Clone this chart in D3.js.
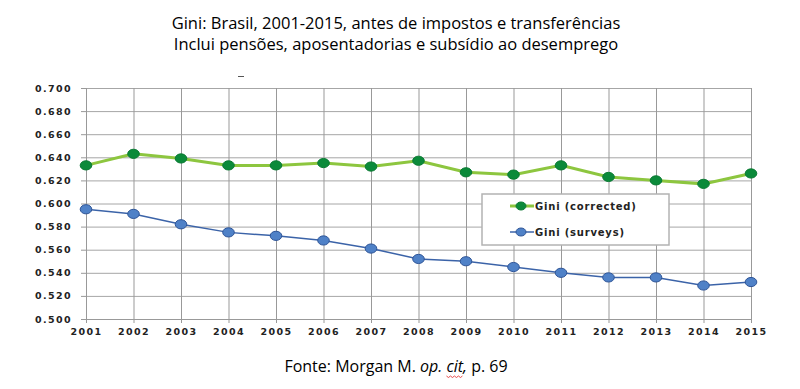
<!DOCTYPE html>
<html>
<head>
<meta charset="utf-8">
<script src="https://cdn.jsdelivr.net/npm/d3@7"></script>
<style>
  body { margin: 0; background: #fff; }
  svg { display: block; }
</style>
</head>
<body>
<svg id="chart"></svg>
<script>
// Gini values
const years = [2001, 2002, 2003, 2004, 2005, 2006, 2007, 2008, 2009, 2010, 2011, 2012, 2013, 2014, 2015];
const giniCorrected = [0.633, 0.643, 0.639, 0.633, 0.633, 0.635, 0.632, 0.637, 0.627, 0.625, 0.633, 0.623, 0.620, 0.617, 0.626];
const giniSurveys = [0.595, 0.591, 0.582, 0.575, 0.572, 0.568, 0.561, 0.552, 0.550, 0.545, 0.540, 0.536, 0.536, 0.529, 0.532];
const yTicks = [0.5, 0.52, 0.54, 0.56, 0.58, 0.6, 0.62, 0.64, 0.66, 0.68, 0.7];
const titleLines = ["Gini: Brasil, 2001-2015, antes de impostos e transferências",
                    "Inclui pensões, aposentadorias e subsídio ao desemprego"];

const width = 800;
const height = 389;
const marginTop = 88;
const marginRight = 49;
const marginBottom = 70;
const marginLeft = 86;

const svg = d3.select("#chart")
    .attr("width", width)
    .attr("height", height)
    .attr("viewBox", [0, 0, width, height]);

const x = d3.scaleLinear([2001, 2015], [marginLeft, width - marginRight]);
const y = d3.scaleLinear([0.5, 0.7], [height - marginBottom, marginTop]);

const axisFont = "'DejaVu Sans', sans-serif";

// Title
svg.append("g")
    .selectAll("text")
    .data(titleLines)
    .join("text")
    .attr("x", 396)
    .attr("y", (d, i) => 29 + i * 21)
    .attr("text-anchor", "middle")
    .attr("font-family", "'Open Sans', sans-serif")
    .attr("font-size", 16.5)
    .attr("fill", "#000")
    .text(d => d);

// stray little dash under the title in the original
svg.append("line")
    .attr("x1", 238).attr("x2", 244)
    .attr("y1", 76.5).attr("y2", 76.5)
    .attr("stroke", "#555")
    .attr("stroke-width", 1);

// Grid: horizontal lines + y-axis
svg.append("g")
    .attr("transform", `translate(${marginLeft},0)`)
    .call(d3.axisLeft(y).tickValues(yTicks).tickFormat(d3.format(".3f")).tickSize(5).tickPadding(9))
    .call(g => g.select(".domain").attr("stroke", "#999"))
    .call(g => g.selectAll(".tick line").attr("stroke", "#999"))
    .call(g => g.selectAll(".tick line").clone()
        .attr("x1", 0)
        .attr("x2", width - marginLeft - marginRight)
        .attr("stroke", "#a6a6a6"))
    .call(g => g.selectAll(".tick text")
        .attr("font-family", axisFont)
        .attr("font-weight", "bold")
        .attr("font-size", 9.5)
        .attr("letter-spacing", 1.4)
        .attr("fill", "#222"));

// Grid: vertical lines + x-axis
svg.append("g")
    .attr("transform", `translate(0,${height - marginBottom})`)
    .call(d3.axisBottom(x).tickValues(years).tickFormat(d3.format("d")).tickSize(4).tickPadding(5))
    .call(g => g.select(".domain").attr("stroke", "#999"))
    .call(g => g.selectAll(".tick line").attr("stroke", "#999"))
    .call(g => g.selectAll(".tick line").clone()
        .attr("y1", 0)
        .attr("y2", -(height - marginBottom - marginTop))
        .attr("stroke", "#999"))
    .call(g => g.selectAll(".tick text")
        .attr("font-family", axisFont)
        .attr("font-weight", "bold")
        .attr("font-size", 9.5)
        .attr("letter-spacing", 1.4)
        .attr("fill", "#222"));

const series = [
    { name: "Gini (corrected)", values: giniCorrected, line: "#8dc63f", dot: "#0b8a3a", dotStroke: "#0a7a33", width: 3 },
    { name: "Gini (surveys)", values: giniSurveys, line: "#3b63a8", dot: "#4f81c7", dotStroke: "#2f5597", width: 1.5 }
];

const line = d3.line()
    .x((d, i) => x(years[i]))
    .y(d => y(d));

for (const s of series) {
    svg.append("path")
        .attr("fill", "none")
        .attr("stroke", s.line)
        .attr("stroke-width", s.width)
        .attr("d", line(s.values));

    svg.append("g")
        .selectAll("ellipse")
        .data(s.values)
        .join("ellipse")
        .attr("cx", (d, i) => x(years[i]))
        .attr("cy", d => y(d))
        .attr("rx", 5.8)
        .attr("ry", 4.6)
        .attr("fill", s.dot)
        .attr("stroke", s.dotStroke)
        .attr("stroke-width", 1);
}

// Legend
const legend = svg.append("g").attr("transform", "translate(482,194)");
legend.append("rect")
    .attr("width", 187)
    .attr("height", 51)
    .attr("fill", "#fff")
    .attr("stroke", "#b3b3b3")
    .attr("stroke-width", 1.5);

series.forEach((s, i) => {
    const g = legend.append("g").attr("transform", `translate(0,${12 + i * 26})`);
    g.append("line")
        .attr("x1", 28).attr("x2", 52)
        .attr("stroke", s.line)
        .attr("stroke-width", s.width);
    g.append("ellipse")
        .attr("cx", 39).attr("rx", 5).attr("ry", 4)
        .attr("fill", s.dot)
        .attr("stroke", s.dotStroke);
    g.append("text")
        .attr("x", 53)
        .attr("dy", "0.35em")
        .attr("font-family", axisFont)
        .attr("font-weight", "bold")
        .attr("font-size", 10)
        .attr("letter-spacing", 0.8)
        .attr("fill", "#222")
        .text(s.name);
});

// Source line
const src = svg.append("text")
    .attr("x", 396)
    .attr("y", 372)
    .attr("text-anchor", "middle")
    .attr("font-family", "'Open Sans', sans-serif")
    .attr("font-size", 16)
    .attr("fill", "#000");
src.append("tspan").text("Fonte: Morgan M. ");
src.append("tspan").attr("font-style", "italic").text("op. ");
const cit = src.append("tspan").attr("font-style", "italic").text("cit,");
src.append("tspan").text(" p. 69");

// red spell-check squiggle under "cit"
const citStart = cit.node().getStartPositionOfChar(0).x;
const citEnd = cit.node().getEndPositionOfChar(2).x;
const pts = [];
for (let px = citStart, k = 0; px <= citEnd; px += 2, k++) pts.push([px, 376 + (k % 2 ? 1.5 : 0)]);
svg.append("path")
    .attr("fill", "none")
    .attr("stroke", "#e02020")
    .attr("stroke-width", 0.8)
    .attr("d", d3.line()(pts));
</script>
</body>
</html>
